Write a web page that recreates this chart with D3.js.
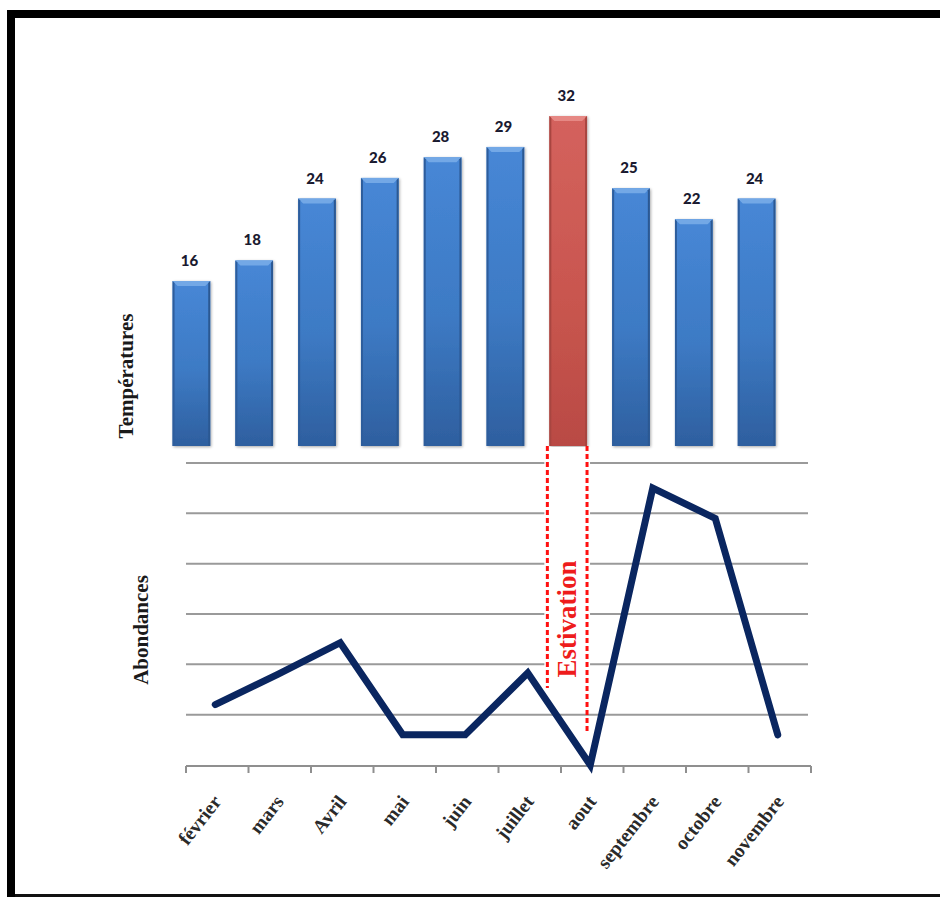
<!DOCTYPE html>
<html>
<head>
<meta charset="utf-8">
<script src="https://cdn.jsdelivr.net/npm/d3@7"></script>
<style>
  html, body { margin: 0; padding: 0; background: #fff; }
  svg { display: block; }
</style>
</head>
<body>
<svg id="chart" width="940" height="897"></svg>
<script>
// Monthly temperatures (°C) and relative abundances
const months = ["février", "mars", "Avril", "mai", "juin", "juillet", "aout", "septembre", "octobre", "novembre"];
const temperatures = [16, 18, 24, 26, 28, 29, 32, 25, 22, 24];
const abundances = [1.2, 1.8, 2.43, 0.6, 0.6, 1.83, 0, 5.5, 4.9, 0.6];
const abundanceGrid = [1, 2, 3, 4, 5, 6];
const estivationMonth = "aout";

const svg = d3.select("#chart");

// Frame around the figure
const frame = svg.append("g");
frame.append("rect").attr("x", 7).attr("y", 10).attr("width", 933).attr("height", 8).attr("fill", "#000");
frame.append("rect").attr("x", 7).attr("y", 10).attr("width", 8).attr("height", 887).attr("fill", "#000");
frame.append("rect").attr("x", 15).attr("y", 894).attr("width", 925).attr("height", 3).attr("fill", "#111");

// ---------- Temperature bars ----------
const xTop = d3.scaleBand().domain(months).range([160, 788]).paddingInner(0.4).paddingOuter(0.2);
const yTop = d3.scaleLinear().domain([0, 32]).range([446, 116]);

const defs = svg.append("defs");
function barGradient(id, light, mid, dark) {
  const g = defs.append("linearGradient").attr("id", id).attr("x1", 0).attr("y1", 0).attr("x2", 0).attr("y2", 1);
  g.append("stop").attr("offset", "0%").attr("stop-color", light);
  g.append("stop").attr("offset", "55%").attr("stop-color", mid);
  g.append("stop").attr("offset", "100%").attr("stop-color", dark);
}
barGradient("gBlue", "#4787d6", "#3d7ac4", "#2e5f9f");
barGradient("gRed", "#d4625d", "#c9564f", "#b94a44");

const shadow = defs.append("filter").attr("id", "barShadow").attr("x", "-20%").attr("y", "-5%").attr("width", "140%").attr("height", "112%");
shadow.append("feGaussianBlur").attr("in", "SourceAlpha").attr("stdDeviation", 1.5);
shadow.append("feOffset").attr("dx", 1).attr("dy", 1).attr("result", "b");
shadow.append("feComponentTransfer").append("feFuncA").attr("type", "linear").attr("slope", 0.35);
const fm = shadow.append("feMerge");
fm.append("feMergeNode");
fm.append("feMergeNode").attr("in", "SourceGraphic");

const bw = xTop.bandwidth();
const bars = svg.append("g").selectAll("g").data(months.map((m, i) => ({ m, v: temperatures[i] }))).join("g");

bars.append("rect")
  .attr("x", d => xTop(d.m))
  .attr("y", d => yTop(d.v))
  .attr("width", bw)
  .attr("height", d => yTop(0) - yTop(d.v))
  .attr("fill", d => d.m === estivationMonth ? "url(#gRed)" : "url(#gBlue)")
  .attr("filter", "url(#barShadow)");

// Bevelled edges
const bev = 5;
bars.append("path")
  .attr("d", d => {
    const x0 = xTop(d.m), x1 = x0 + bw, y0 = yTop(d.v);
    return `M${x0},${y0}L${x1},${y0}L${x1 - bev},${y0 + bev}L${x0 + bev},${y0 + bev}Z`;
  })
  .attr("fill", d => d.m === estivationMonth ? "#e88d88" : "#78ace8")
  .attr("opacity", 0.9);
bars.append("path")
  .attr("d", d => {
    const x0 = xTop(d.m), y0 = yTop(d.v), y1 = yTop(0);
    return `M${x0},${y0}L${x0 + 2},${y0 + 2}L${x0 + 2},${y1}L${x0},${y1}Z`;
  })
  .attr("fill", d => d.m === estivationMonth ? "#a84540" : "#2d5d9c");
bars.append("path")
  .attr("d", d => {
    const x1 = xTop(d.m) + bw, y0 = yTop(d.v), y1 = yTop(0);
    return `M${x1},${y0}L${x1 - 2},${y0 + 2}L${x1 - 2},${y1}L${x1},${y1}Z`;
  })
  .attr("fill", d => d.m === estivationMonth ? "#a84540" : "#2b5892");

bars.append("text")
  .attr("x", d => xTop(d.m) + bw / 2 - 2)
  .attr("y", d => yTop(d.v) - 15)
  .attr("text-anchor", "middle")
  .attr("font-family", "Lato, 'Open Sans', sans-serif")
  .attr("font-weight", 900)
  .attr("font-size", 15)
  .attr("fill", "#1a1a30")
  .text(d => d.v);

// ---------- Abundance line ----------
const xBot = d3.scaleBand().domain(months).range([186, 811]);
const yBot = d3.scaleLinear().domain([0, 6]).range([765, 463]);

svg.append("g").selectAll("line").data(abundanceGrid).join("line")
  .attr("x1", 186).attr("x2", 808)
  .attr("y1", d => yBot(d)).attr("y2", d => yBot(d))
  .attr("stroke", "#9a9a9a").attr("stroke-width", 2);

// Estivation window below the August bar
const ex0 = xTop(estivationMonth) - 2, ex1 = xTop(estivationMonth) + bw;
svg.append("rect")
  .attr("x", ex0 - 3).attr("y", yTop(0) + 1)
  .attr("width", ex1 - ex0 + 6).attr("height", yBot(1.6) - yTop(0))
  .attr("fill", "#fff");

// Axis line with category separators
const axis = svg.append("g");
axis.append("line").attr("x1", 186).attr("x2", 811).attr("y1", 766).attr("y2", 766)
  .attr("stroke", "#8f8f8f").attr("stroke-width", 2);
const boundaries = months.map(m => xBot(m)).concat([xBot(months[months.length - 1]) + xBot.bandwidth()]);
axis.selectAll("line.tick").data(boundaries).join("line").attr("class", "tick")
  .attr("x1", d => d).attr("x2", d => d).attr("y1", 766).attr("y2", 773)
  .attr("stroke", "#8f8f8f").attr("stroke-width", 2);

const line = d3.line()
  .x((d, i) => xBot(months[i]) + xBot.bandwidth() / 2 - 2)
  .y(d => yBot(d));
svg.append("path")
  .datum(abundances)
  .attr("d", line)
  .attr("fill", "none")
  .attr("stroke", "#0a2660")
  .attr("stroke-width", 7)
  .attr("stroke-linejoin", "miter")
  .attr("stroke-linecap", "round");

// Dashed estivation markers
const dash = svg.append("g").attr("stroke", "#ff1010").attr("stroke-width", 3).attr("stroke-dasharray", "5,3");
dash.append("line").attr("x1", ex0).attr("x2", ex0).attr("y1", yTop(0)).attr("y2", 688);
dash.append("line").attr("x1", ex1).attr("x2", ex1).attr("y1", yTop(0)).attr("y2", 732);

svg.append("text")
  .attr("transform", `translate(${(ex0 + ex1) / 2 + 9},619) rotate(-90)`)
  .attr("text-anchor", "middle")
  .attr("font-family", "'Liberation Serif', 'Times New Roman', serif")
  .attr("font-weight", 700)
  .attr("font-size", 27)
  .attr("fill", "#ee1c1c")
  .text("Estivation");

// Month labels
svg.append("g").selectAll("text").data(months).join("text")
  .attr("transform", m => `translate(${xBot(m) + xBot.bandwidth() / 2 + 5},${802}) rotate(-52)`)
  .attr("text-anchor", "end")
  .attr("font-family", "'Liberation Serif', 'Times New Roman', serif")
  .attr("font-weight", 700)
  .attr("font-size", 19.5)
  .attr("fill", "#2a2a2a")
  .text(m => m);

// Axis titles
const titleFont = "'Liberation Serif', 'Times New Roman', serif";
svg.append("text")
  .attr("transform", "translate(133,376) rotate(-90)")
  .attr("text-anchor", "middle")
  .attr("font-family", titleFont).attr("font-weight", 700).attr("font-size", 21)
  .attr("fill", "#1a1a1a")
  .text("Températures");
svg.append("text")
  .attr("transform", "translate(148,630) rotate(-90)")
  .attr("text-anchor", "middle")
  .attr("font-family", titleFont).attr("font-weight", 700).attr("font-size", 21)
  .attr("fill", "#1a1a1a")
  .text("Abondances");
</script>
</body>
</html>
